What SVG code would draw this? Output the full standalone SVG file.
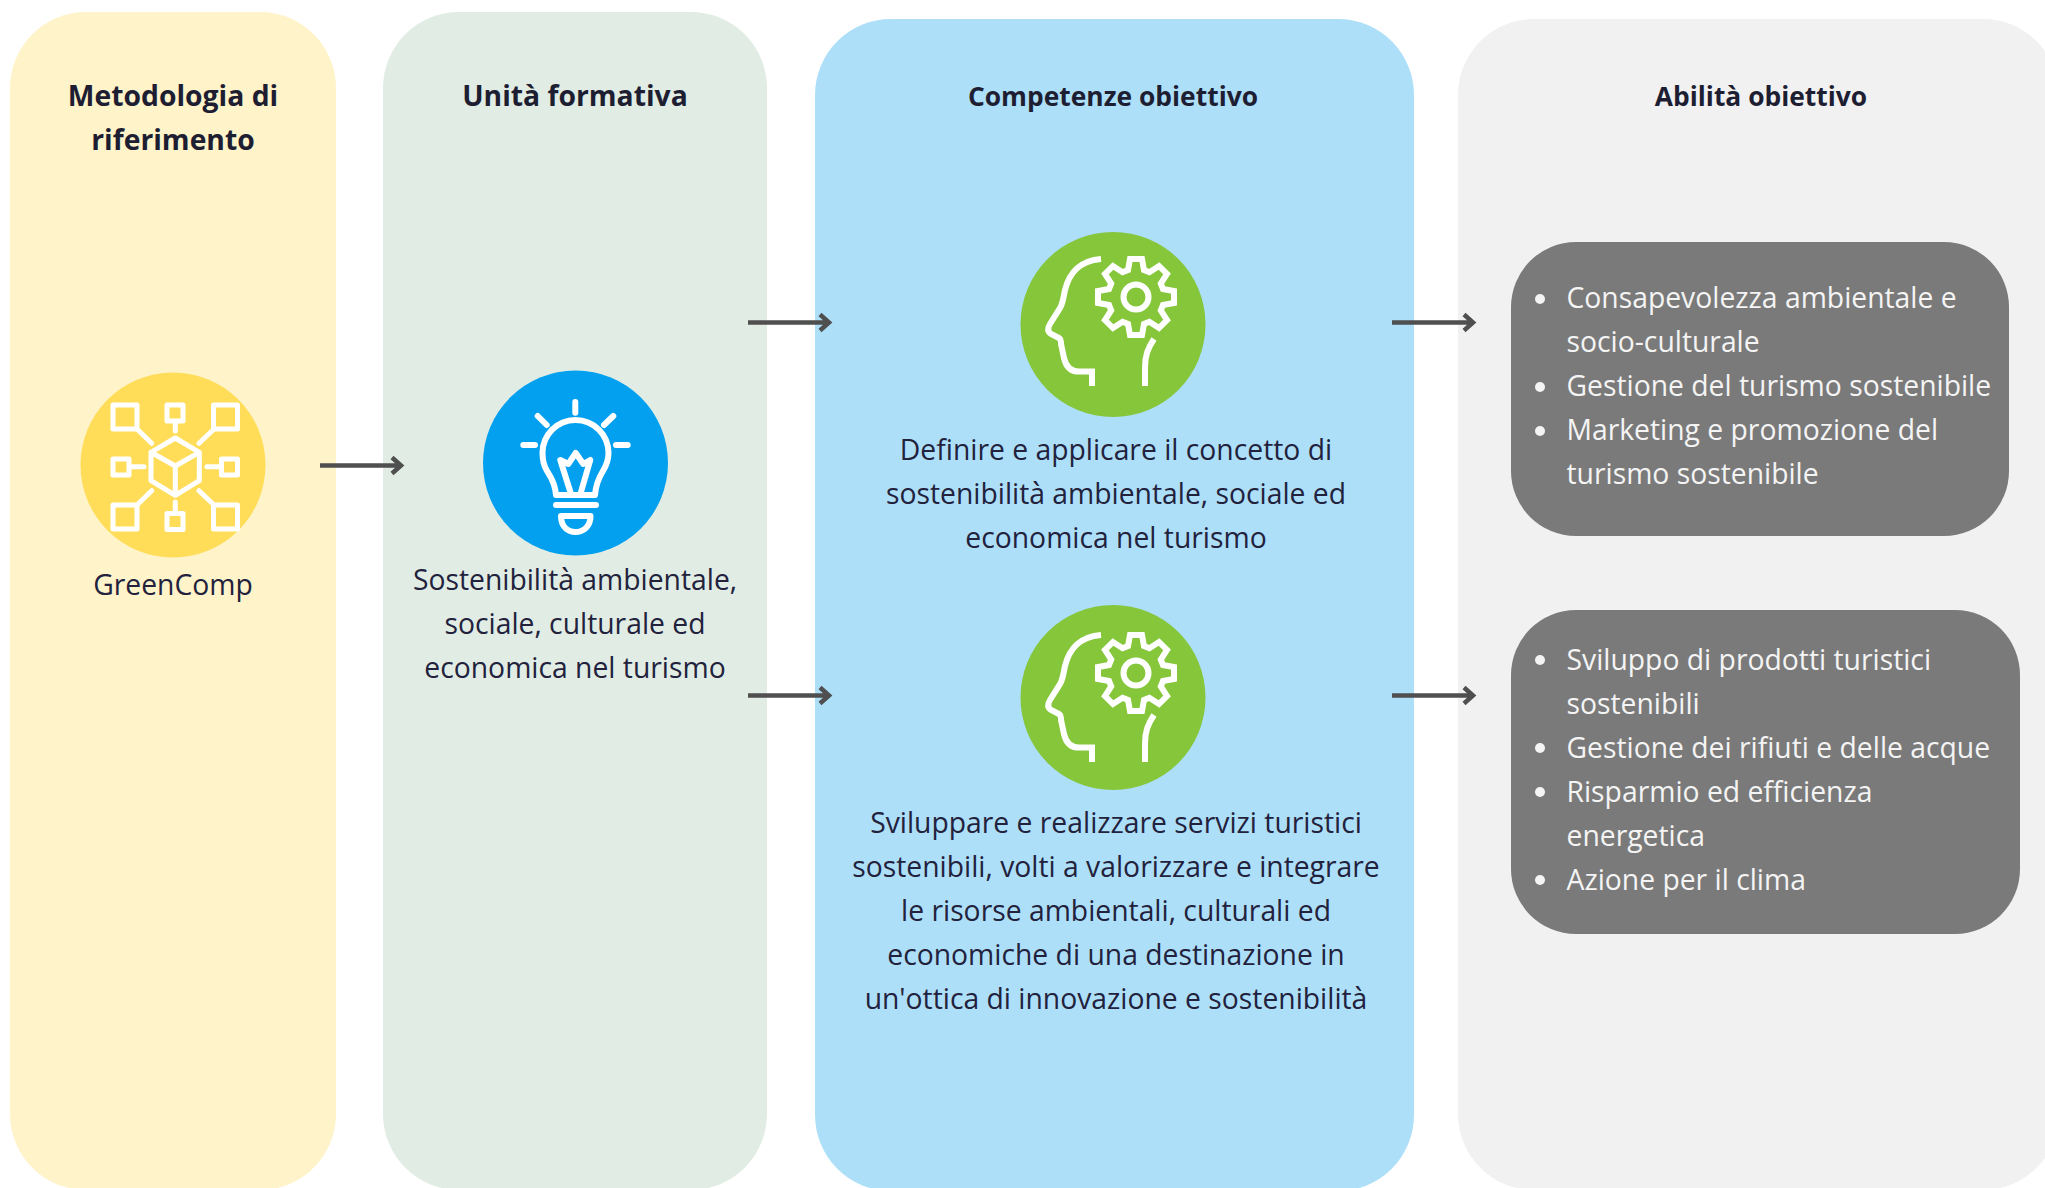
<svg xmlns="http://www.w3.org/2000/svg" width="2045" height="1188" viewBox="0 0 2045 1188">
<defs>
<style>
text{font-family:"Open Sans","Noto Sans","Liberation Sans",sans-serif;font-size:28.3px;fill:#22223d}
.t{font-weight:700;fill:#1e1e33;text-anchor:middle}
.s{font-size:26.4px}
.c{text-anchor:middle}
.w{fill:#f4f4f4}
.i{fill:none;stroke:#fff;stroke-width:6;stroke-linecap:round;stroke-linejoin:round}
.ib{fill:none;stroke:#fff;stroke-width:6;stroke-linecap:butt;stroke-linejoin:miter}
.n{fill:none;stroke:#fff;stroke-width:5;stroke-linecap:round;stroke-linejoin:round}
.a{fill:none;stroke:#4f4f4f;stroke-width:4.5;stroke-linejoin:miter}
</style>
<g id="head">
<path class="ib" d="M1101 259C1078 261 1069 274 1065 290C1063 299 1063 303 1060 308L1050 324C1047 329 1048 332 1051 334L1059 338C1061 339 1061 341 1061 344L1064 358C1066 367 1071 371.500 1079 371.500H1092V386"/>
<path class="ib" d="M1154 339C1148 348 1145 355 1145 368V386"/>
<path class="ib" transform="translate(1136 297)" d="M-8-27-6-38H6L8-27 13.400-24.800 23-31 31-23 24.800-13.400 27-8 38-6V6L27 8 24.800 13.400 31 23 23 31 13.400 24.800 8 27 6 38H-6L-8 27-13.400 24.800-23 31-31 23-24.800 13.400-27 8-38 6V-6L-27-8-24.800-13.400-31-23-23-31-13.400-24.800Z"/>
<circle class="ib" cx="1136" cy="297" r="12.500"/>
</g>
</defs>
<rect width="2045" height="1188" fill="#fff"/>
<g id="col1">
<rect x="10" y="12" width="326" height="1178" rx="76" fill="#fff3c9"/>
<text class="t" x="173" y="106">Metodologia di</text>
<text class="t" x="173" y="150">riferimento</text>
<circle cx="173" cy="465" r="92.5" fill="#ffdd59"/>
<g class="n">
<rect x="113" y="405" width="24" height="24"/><rect x="167" y="405" width="16" height="16"/><rect x="213.500" y="405" width="24" height="24"/>
<rect x="113" y="459" width="16" height="16"/><rect x="221.500" y="459" width="16" height="16"/>
<rect x="113" y="505" width="24" height="24"/><rect x="167" y="513.500" width="16" height="16"/><rect x="213.500" y="505" width="24" height="24"/>
<path d="M175.300 438L151 452.300V480.700L175.300 495.300L199.300 480.700V452.300ZM151 452.300L175.300 466L199.300 452.300M175.300 466V495.300M175.300 422V431M130 466.700H144M207 466.700H220M175.300 502V512M138 430L151.700 443.300M213 430L199 443.300M151.700 490.700L138 504M199 490.700L213 504"/>
</g>
<text class="c" x="173" y="595">GreenComp</text>
</g>
<g id="col2">
<rect x="383" y="12" width="384" height="1178" rx="76" fill="#e1ede4"/>
<text class="t" x="575" y="106">Unità formativa</text>
<circle cx="575.500" cy="463" r="92.5" fill="#03a0ef"/>
<g class="i">
<path d="M575.300 402V412.700M537.700 416L546.700 425M613.300 416L604 425M523.300 445H535M616 445H627.700"/>
<path d="M556 495C555 482 550 476 547 471C544 466 542.500 460 542.500 453A33 33 0 0 1 608.500 453C608.500 460 606 466 603 471C600 476 596 482 595 495Z"/>
<path d="M570.700 493L560.300 460L568.300 464L575.700 453L583.300 464L590.300 460L580.700 493"/>
<path d="M556 505H596M561 516H590.500C590.500 527 583 532 575.500 532C568 532 561 527 561 516Z"/>
</g>
<text class="c" x="575" y="590">Sostenibilità ambientale,</text>
<text class="c" x="575" y="634">sociale, culturale ed</text>
<text class="c" x="575" y="678">economica nel turismo</text>
</g>
<g id="col3">
<rect x="815" y="19" width="599" height="1172" rx="76" fill="#aedff9"/>
<text class="t s" x="1113" y="106">Competenze obiettivo</text>
<circle cx="1113" cy="324.500" r="92.5" fill="#85c63a"/>
<use href="#head"/>
<circle cx="1113" cy="697.500" r="92.5" fill="#85c63a"/>
<use href="#head" y="376"/>
<text class="c" x="1116" y="460">Definire e applicare il concetto di</text>
<text class="c" x="1116" y="504">sostenibilità ambientale, sociale ed</text>
<text class="c" x="1116" y="548">economica nel turismo</text>
<text class="c" x="1116" y="833">Sviluppare e realizzare servizi turistici</text>
<text class="c" x="1116" y="877">sostenibili, volti a valorizzare e integrare</text>
<text class="c" x="1116" y="921">le risorse ambientali, culturali ed</text>
<text class="c" x="1116" y="965">economiche di una destinazione in</text>
<text class="c" x="1116" y="1009">un'ottica di innovazione e sostenibilità</text>
</g>
<g id="col4">
<rect x="1458" y="19" width="601" height="1171" rx="76" fill="#f1f1f1"/>
<text class="t s" x="1761" y="106">Abilità obiettivo</text>
<rect x="1511" y="242" width="498" height="294" rx="65" fill="#7a7a7a"/>
<circle cx="1540" cy="299" r="5" fill="#f4f4f4"/><circle cx="1540" cy="387" r="5" fill="#f4f4f4"/><circle cx="1540" cy="431" r="5" fill="#f4f4f4"/>
<text class="w" x="1566.500" y="308">Consapevolezza ambientale e</text>
<text class="w" x="1566.500" y="352">socio-culturale</text>
<text class="w" x="1566.500" y="396">Gestione del turismo sostenibile</text>
<text class="w" x="1566.500" y="440">Marketing e promozione del</text>
<text class="w" x="1566.500" y="484">turismo sostenibile</text>
<rect x="1511" y="610" width="509" height="324" rx="65" fill="#7a7a7a"/>
<circle cx="1540" cy="660" r="5" fill="#f4f4f4"/><circle cx="1540" cy="748" r="5" fill="#f4f4f4"/><circle cx="1540" cy="792" r="5" fill="#f4f4f4"/><circle cx="1540" cy="880" r="5" fill="#f4f4f4"/>
<text class="w" x="1566.500" y="670">Sviluppo di prodotti turistici</text>
<text class="w" x="1566.500" y="714">sostenibili</text>
<text class="w" x="1566.500" y="758">Gestione dei rifiuti e delle acque</text>
<text class="w" x="1566.500" y="802">Risparmio ed efficienza</text>
<text class="w" x="1566.500" y="846">energetica</text>
<text class="w" x="1566.500" y="890">Azione per il clima</text>
</g>
<g id="connectors">
<path class="a" d="M320 465.500H401M392 457.500L401 465.500L392 473.500"/>
<path class="a" d="M748 322.500H829M820 314.500L829 322.500L820 330.500"/>
<path class="a" d="M748 695.500H829M820 687.500L829 695.500L820 703.500"/>
<path class="a" d="M1392 322.500H1473M1464 314.500L1473 322.500L1464 330.500"/>
<path class="a" d="M1392 695.500H1473M1464 687.500L1473 695.500L1464 703.500"/>
</g>
</svg>
